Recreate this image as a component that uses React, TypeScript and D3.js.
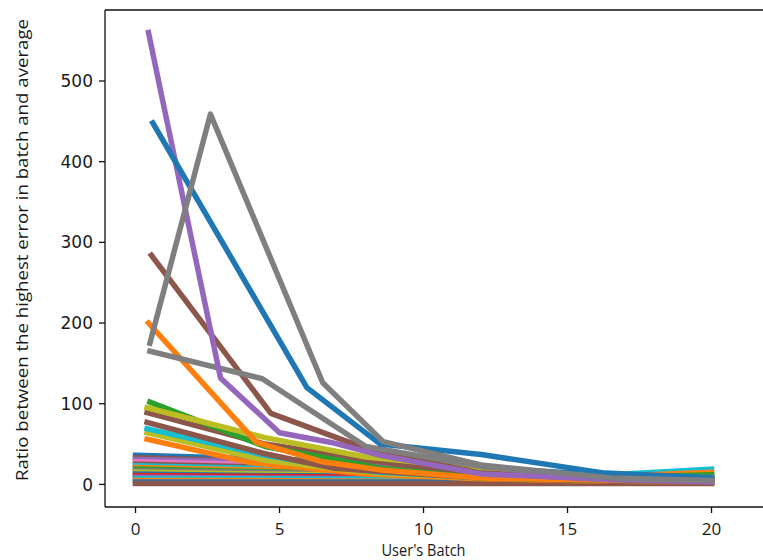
import React from "react";
import * as d3 from "d3";

// ---- data: ratio between the highest error in a batch and the average, per user's batch ----
type Pt = [number, number];

// large-ratio users
const purpleHigh: Pt[] = [[0.45, 560], [2.95, 132], [5.0, 64], [6.8, 52], [8.5, 36], [12, 13], [16.5, 6], [20, 3]];
const blueHigh: Pt[] = [[0.6, 448], [5.95, 120], [8.5, 50], [12, 37], [16.3, 14], [20, 8]];
const grayPeak: Pt[] = [[0.5, 175], [2.6, 459], [6.5, 126], [8.6, 53], [12, 24], [16.5, 8], [20, 5]];
const grayKink: Pt[] = [[0.5, 165], [4.4, 131], [8.0, 47], [12, 22], [16.5, 7], [20, 4]];
const brownHigh: Pt[] = [[0.55, 284], [4.7, 88], [7.9, 46], [8.5, 40], [12, 14], [16.5, 6], [20, 3]];
const orangeHigh: Pt[] = [[0.45, 200], [4.2, 52], [6.5, 28], [8.5, 18], [12, 8], [16.5, 5], [20, 4]];

// mid-range users
const greenMid: Pt[] = [[0.5, 102], [4.5, 47], [8.5, 20], [12, 8], [16.5, 5], [20, 4]];
const oliveMidA: Pt[] = [[0.4, 95], [4.5, 58], [8.0, 34], [12, 20], [16.5, 8], [20, 6]];
const brownMidA: Pt[] = [[0.4, 89], [4.5, 50], [8.5, 28], [12, 11], [16.5, 5], [20, 3]];
const brownMidB: Pt[] = [[0.4, 77], [4.5, 38], [6.9, 20], [8.5, 16], [12, 8], [16.5, 4], [20, 3]];
const cyanMid: Pt[] = [[0.4, 69], [4.5, 36], [6.5, 24], [8.5, 15], [12, 9], [16.5, 5], [20, 4]];
const oliveMidB: Pt[] = [[0.4, 64], [4.5, 30], [7.0, 19], [8.5, 14], [12, 8], [16.5, 5], [20, 4]];
const orangeMid: Pt[] = [[0.4, 56], [4.0, 27], [8.0, 13], [12, 7], [16.5, 4], [20, 3]];

// low-range users, observed from the first batch
const lowBatches = [0, 4, 8.5, 12, 16.5, 20];
const lowBlueA = [36, 32, 27, 20, 12, 9];
const lowBrownA = [33, 29, 23, 15, 9, 8];
const lowPurpleA = [31, 28, 22, 14, 9, 10];
const lowPink = [28, 25, 19, 13, 8, 7];
const lowBrownB = [25, 22, 17, 12, 8, 6];
const lowCyanA = [23, 20, 16, 13, 12, 19];
const lowOrangeA = [21, 18, 14, 12, 10, 15];
const lowGreen = [19, 16, 13, 10, 9, 12];
const lowGray = [17, 15, 12, 10, 8, 9];
const lowOlive = [15, 13, 11, 9, 8, 8];
const lowBlueB = [13, 11, 10, 8, 7, 7];
const lowRed = [11, 10, 9, 7, 6, 6];
const lowPurpleB = [9, 8, 7, 6, 5, 7];
const lowCyanB = [7, 7, 6, 5, 5, 5];
const lowOrangeB = [5, 5, 4, 4, 4, 4];
const lowBlueC = [3, 3, 3, 3, 3, 3];
const lowBrownC = [1, 1, 1, 1, 1, 1];

const xTicks = [0, 5, 10, 15, 20];
const yTicks = [0, 100, 200, 300, 400, 500];
const xLabel = "User's Batch";
const yLabel = "Ratio between the highest error in batch and average";

const tab10 = d3.schemeCategory10; // blue, orange, green, red, purple, brown, pink, gray, olive, cyan
const C = { blue: 0, orange: 1, green: 2, red: 3, purple: 4, brown: 5, pink: 6, gray: 7, olive: 8, cyan: 9 };

const low = (ys: number[]): Pt[] => lowBatches.map((x, i) => [x, ys[i]] as Pt);

// drawing order: first drawn sits underneath
const series: { pts: Pt[]; color: number }[] = [
  { pts: low(lowBlueA), color: C.blue },
  { pts: low(lowBrownA), color: C.brown },
  { pts: low(lowPurpleA), color: C.purple },
  { pts: low(lowPink), color: C.pink },
  { pts: low(lowBrownB), color: C.brown },
  { pts: low(lowCyanA), color: C.cyan },
  { pts: low(lowOrangeA), color: C.orange },
  { pts: low(lowGreen), color: C.green },
  { pts: low(lowGray), color: C.gray },
  { pts: low(lowOlive), color: C.olive },
  { pts: low(lowBlueB), color: C.blue },
  { pts: low(lowRed), color: C.red },
  { pts: low(lowPurpleB), color: C.purple },
  { pts: low(lowCyanB), color: C.cyan },
  { pts: low(lowOrangeB), color: C.orange },
  { pts: low(lowBlueC), color: C.blue },
  { pts: low(lowBrownC), color: C.brown },
  { pts: orangeMid, color: C.orange },
  { pts: oliveMidB, color: C.olive },
  { pts: cyanMid, color: C.cyan },
  { pts: brownMidB, color: C.brown },
  { pts: brownMidA, color: C.brown },
  { pts: greenMid, color: C.green },
  { pts: oliveMidA, color: C.olive },
  { pts: orangeHigh, color: C.orange },
  { pts: brownHigh, color: C.brown },
  { pts: grayKink, color: C.gray },
  { pts: purpleHigh, color: C.purple },
  { pts: blueHigh, color: C.blue },
  { pts: grayPeak, color: C.gray },
];

const W = 763;
const H = 560;
const plot = { left: 105, top: 10, bottom: 507 };

export default function App() {
  const x = d3.scaleLinear().domain([-1.06, 21.95]).range([plot.left, plot.left + 23.01 * 28.8]);
  const y = d3.scaleLinear().domain([-28, 588]).range([plot.bottom, plot.top]);
  const line = d3
    .line<Pt>()
    .x((d) => x(d[0]))
    .y((d) => y(d[1]));

  return (
    <svg
      width={W}
      height={H}
      style={{ position: "absolute", left: 0, top: 0, background: "#fff" }}
    >
      <defs>
        <clipPath id="plotArea">
          <rect x={plot.left} y={plot.top} width={W - plot.left} height={plot.bottom - plot.top} />
        </clipPath>
      </defs>
      <g clipPath="url(#plotArea)">
        {series.map((s, i) => (
          <path
            key={i}
            d={line(s.pts) ?? ""}
            fill="none"
            stroke={tab10[s.color]}
            strokeWidth={5.5}
            strokeLinecap="square"
            strokeLinejoin="round"
          />
        ))}
      </g>

      {/* spines */}
      <g stroke="#111" strokeWidth={1.3} fill="none">
        <line x1={plot.left} x2={plot.left} y1={plot.top} y2={plot.bottom} />
        <line x1={plot.left} x2={W} y1={plot.top} y2={plot.top} />
        <line x1={plot.left} x2={W} y1={plot.bottom} y2={plot.bottom} />
      </g>

      {/* y axis */}
      <g>
        {yTicks.map((t) => (
          <g key={t} transform={`translate(0,${y(t)})`}>
            <line x1={plot.left - 6} x2={plot.left} stroke="#111" strokeWidth={1.3} />
            <text
              x={plot.left - 12}
              dy="0.36em"
              textAnchor="end"
              fontFamily="DejaVu Sans, sans-serif"
              fontSize={17}
              fill="#1a1a1a"
            >
              {t}
            </text>
          </g>
        ))}
      </g>

      {/* x axis */}
      <g>
        {xTicks.map((t) => (
          <g key={t} transform={`translate(${x(t)},0)`}>
            <line y1={plot.bottom} y2={plot.bottom + 6} stroke="#111" strokeWidth={1.3} />
            <text
              y={plot.bottom + 28}
              textAnchor="middle"
              fontFamily="Open Sans, sans-serif"
              fontSize={17}
              fill="#1a1a1a"
            >
              {t}
            </text>
          </g>
        ))}
      </g>

      <text
        x={x(10)}
        y={556}
        textAnchor="middle"
        fontFamily="Open Sans, sans-serif"
        fontSize={17}
        fill="#1a1a1a"
        textLength={84}
        lengthAdjust="spacingAndGlyphs"
      >
        {xLabel}
      </text>

      <text
        transform={`translate(28,250) rotate(-90)`}
        textAnchor="middle"
        fontFamily="Open Sans, sans-serif"
        fontSize={15.5}
        fill="#1a1a1a"
        textLength={462}
        lengthAdjust="spacingAndGlyphs"
      >
        {yLabel}
      </text>
    </svg>
  );
}
